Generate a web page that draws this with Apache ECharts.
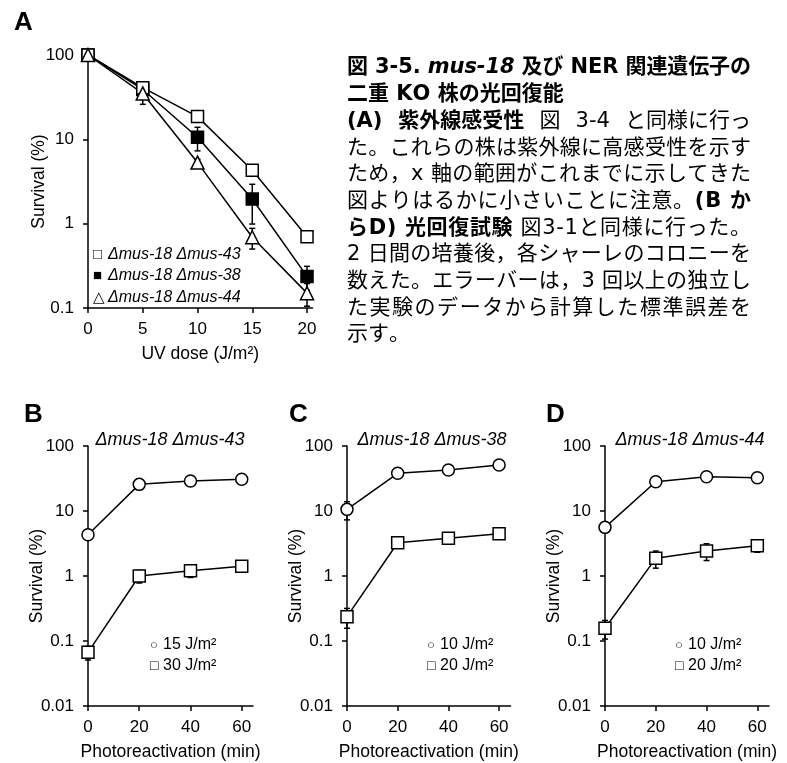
<!DOCTYPE html>
<html><head><meta charset="utf-8">
<script src="https://cdn.jsdelivr.net/npm/echarts@6/dist/echarts.min.js"></script>
<style>html,body{margin:0;padding:0;background:#fff}#c{width:787px;height:763px}</style>
</head><body><div id="c"></div>
<script>
// ---------- Data ----------
const doseA = [0, 5, 10, 15, 20];
const survA43 = [100, 41, 18.6, 4.3, 0.70];
const seA43 = [0, 2, 1, 0.3, 0.05];
const survA38 = [100, 39, 10.6, 1.96, 0.237];
const seA38 = [0, 4, 3.3, 0.97, 0.075];
const survA44 = [100, 35, 5.3, 0.69, 0.15];
const seA44 = [0, 9, 0.5, 0.19, 0.045];

const timePR = [0, 20, 40, 60];
const survB15 = [4.3, 25.7, 29, 30.7];
const seB15 = [0.3, 1.5, 1.5, 1.5];
const survB30 = [0.067, 1.0, 1.2, 1.41];
const seB30 = [0.016, 0.22, 0.25, 0.15];
const survC10 = [10.6, 38, 42.7, 51];
const seC10 = [3.3, 3, 3, 4];
const survC20 = [0.237, 3.25, 3.8, 4.47];
const seC20 = [0.08, 0.3, 0.3, 0.3];
const survD10 = [5.6, 28.2, 33.7, 32.5];
const seD10 = [0.8, 2, 2, 2];
const survD20 = [0.157, 1.87, 2.43, 2.92];
const seD20 = [0.05, 0.55, 0.7, 0.6];

const ticksA = [0, 5, 10, 15, 20];
const ticksPR = [0, 20, 40, 60];
const strainNames = ['Δmus-18 Δmus-43', 'Δmus-18 Δmus-38', 'Δmus-18 Δmus-44'];
const dosesBCD = [['15 J/m²', '30 J/m²'], ['10 J/m²', '20 J/m²'], ['10 J/m²', '20 J/m²']];

const captionLines = [
  [['図 3-5. ', 'b'], ['mus-18', 'bi'], [' 及び NER 関連遺伝子の', 'b']],
  [['二重 KO 株の光回復能', 'b']],
  [['(A) 紫外線感受性', 'b'], [' 図 3-4 と同様に行っ', '']],
  [['た。これらの株は紫外線に高感受性を示す', '']],
  [['ため，x 軸の範囲がこれまでに示してきた', '']],
  [['図よりはるかに小さいことに注意。', ''], ['(B か', 'b']],
  [['らD) 光回復試験', 'b'], [' 図3-1と同様に行った。', '']],
  [['2 日間の培養後，各シャーレのコロニーを', '']],
  [['数えた。エラーバーは，3 回以上の独立し', '']],
  [['た実験のデータから計算した標準誤差を', '']],
  [['示す。', '']]
];
// justification mode per line: 'sp' stretch spaces, 'all' stretch every gap, '' none
const captionJustify = ['all', '', 'sp', 'all', 'all', 'all', 'all', 'all', 'all', 'all', ''];

// ---------- Helpers ----------
const FF = "'Liberation Sans', Arial, 'DejaVu Sans', sans-serif";
const BLACK = '#000';

function pts(xs, ys) { return xs.map((x, i) => [x, ys[i]]); }

function lineSeries(gi, xs, ys, symbol, fill, size) {
  return {
    type: 'line', xAxisIndex: gi, yAxisIndex: gi, data: pts(xs, ys),
    symbol: symbol, symbolSize: size, showAllSymbol: true, z: 3,
    lineStyle: { color: BLACK, width: 1.5 },
    itemStyle: { color: fill, borderColor: BLACK, borderWidth: 1.5 },
    emphasis: { disabled: true }, silent: true, animation: false
  };
}

function errSeries(gi, xs, ys, se) {
  const d = [];
  xs.forEach((x, i) => { if (se[i] > 0) d.push([x, ys[i] - se[i], ys[i] + se[i]]); });
  return {
    type: 'custom', xAxisIndex: gi, yAxisIndex: gi, z: 1, silent: true, animation: false,
    data: d, encode: { x: 0, y: [1, 2] },
    renderItem: function (params, api) {
      const x = api.value(0);
      const lo = api.coord([x, api.value(1)]);
      const hi = api.coord([x, api.value(2)]);
      const w = 3;
      const st = { stroke: BLACK, lineWidth: 1.5 };
      return {
        type: 'group', children: [
          { type: 'line', shape: { x1: lo[0], y1: lo[1], x2: hi[0], y2: hi[1] }, style: st },
          { type: 'line', shape: { x1: lo[0] - w, y1: lo[1], x2: lo[0] + w, y2: lo[1] }, style: st },
          { type: 'line', shape: { x1: hi[0] - w, y1: hi[1], x2: hi[0] + w, y2: hi[1] }, style: st }
        ]
      };
    }
  };
}

function xAxisCfg(gi, max, ticks, name) {
  return {
    type: 'value', gridIndex: gi, min: 0, max: max,
    name: name, nameLocation: 'middle', nameGap: 37, nameMoveOverlap: false,
    nameTextStyle: { color: BLACK, fontSize: 17.5, fontFamily: FF },
    axisLine: { show: true, onZero: false, lineStyle: { color: BLACK, width: 1.5 } },
    axisTick: { show: true, inside: false, length: 5, customValues: ticks, lineStyle: { color: BLACK, width: 1.5 } },
    axisLabel: { show: true, customValues: ticks, color: BLACK, fontSize: 17, fontFamily: FF, margin: 13 },
    splitLine: { show: false }
  };
}

function yAxisCfg(gi, min, gap) {
  return {
    type: 'log', logBase: 10, gridIndex: gi, min: min, max: 100,
    name: 'Survival (%)', nameLocation: 'middle', nameGap: gap, nameMoveOverlap: false,
    nameTextStyle: { color: BLACK, fontSize: 17.5, fontFamily: FF },
    axisLine: { show: true, onZero: false, lineStyle: { color: BLACK, width: 1.5 } },
    axisTick: { show: true, inside: false, length: 5, lineStyle: { color: BLACK, width: 1.5 } },
    axisLabel: { color: BLACK, fontSize: 17, fontFamily: FF, margin: 14, hideOverlap: false,
      formatter: v => String(+(+v).toPrecision(3)) },
    minorTick: { show: false }, splitLine: { show: false }
  };
}

function txt(x, y, text, opts) {
  return {
    type: 'text', x: x, y: y, silent: true,
    style: Object.assign({ text: text, fill: BLACK, fontFamily: FF, fontSize: 17,
      textAlign: 'left', textVerticalAlign: 'middle' }, opts || {})
  };
}

// ---------- Caption (justified) ----------
const CAP_FS = 21;
const CAP_FF = "'DejaVu Sans', 'Noto Sans CJK JP', sans-serif";
const capLeft = 347, capRight = 751, capTop = 68, capStep = 26.7;
const mctx = document.createElement('canvas').getContext('2d');
function fontStr(f) {
  return (f.indexOf('i') >= 0 ? 'italic ' : '') + (f.indexOf('b') >= 0 ? 'bold ' : '') + CAP_FS + 'px ' + CAP_FF;
}
const captionEls = [];
captionLines.forEach((runs, li) => {
  const chars = [];
  runs.forEach(([t, f]) => {
    for (const ch of t) {
      mctx.font = fontStr(f);
      chars.push({ ch, f, w: mctx.measureText(ch).width });
    }
  });
  const total = chars.reduce((s, c) => s + c.w, 0);
  const nSp = chars.filter(c => c.ch === ' ').length;
  let extraSp = 0, extraGap = 0;
  const mode = captionJustify[li];
  if (mode) {
    const extra = capRight - capLeft - total;
    if (mode === 'sp' && nSp > 0) extraSp = extra / nSp; else extraGap = extra / (chars.length - 1);
  }
  let x = capLeft;
  const y = capTop + capStep * li;
  chars.forEach(c => {
    if (c.ch !== ' ') {
      captionEls.push({
        type: 'text', x: x, y: y, silent: true,
        style: { text: c.ch, fill: BLACK, fontFamily: CAP_FF, fontSize: CAP_FS,
          fontWeight: c.f.indexOf('b') >= 0 ? 'bold' : 'normal',
          fontStyle: c.f.indexOf('i') >= 0 ? 'italic' : 'normal',
          textAlign: 'left', textVerticalAlign: 'middle' }
      });
    }
    x += c.w + extraGap + (c.ch === ' ' ? extraSp : 0);
  });
});

// ---------- Other graphics ----------
const labelEls = [
  txt(14, 23, 'A', { fontSize: 26, fontWeight: 'bold' }),
  txt(24, 415, 'B', { fontSize: 26, fontWeight: 'bold' }),
  txt(289, 415, 'C', { fontSize: 26, fontWeight: 'bold' }),
  txt(546, 415, 'D', { fontSize: 26, fontWeight: 'bold' }),
  txt(170, 440, strainNames[0], { fontSize: 18, fontStyle: 'italic', textAlign: 'center' }),
  txt(432, 440, strainNames[1], { fontSize: 18, fontStyle: 'italic', textAlign: 'center' }),
  txt(690, 440, strainNames[2], { fontSize: 18, fontStyle: 'italic', textAlign: 'center' })
];
const legA = ['□', '■', '△'];
const legAy = [255, 276, 298];
legA.forEach((s, i) => {
  labelEls.push(txt(93, legAy[i], s, { fontSize: 15 }));
  labelEls.push(txt(108, legAy[i], strainNames[i], { fontSize: 16, fontStyle: 'italic' }));
});
const legX = [150, 427, 675];
legX.forEach((x, p) => {
  labelEls.push(txt(x, 645, '○', { fontSize: 13 }));
  labelEls.push(txt(x + 13, 645, dosesBCD[p][0], { fontSize: 16 }));
  labelEls.push(txt(x, 666, '□', { fontSize: 14 }));
  labelEls.push(txt(x + 13, 666, dosesBCD[p][1], { fontSize: 16 }));
});

// ---------- Chart ----------
const chart = echarts.init(document.getElementById('c'), null, { renderer: 'canvas' });
chart.setOption({
  animation: false,
  backgroundColor: '#fff',
  grid: [
    { left: 88, top: 55, width: 224.5, height: 253, containLabel: false, outerBoundsMode: 'none' },
    { left: 88, top: 446, width: 165, height: 260, containLabel: false, outerBoundsMode: 'none' },
    { left: 347, top: 446, width: 163.5, height: 260, containLabel: false, outerBoundsMode: 'none' },
    { left: 605, top: 446, width: 164, height: 260, containLabel: false, outerBoundsMode: 'none' }
  ],
  xAxis: [
    xAxisCfg(0, 20.5, ticksA, 'UV dose (J/m²)'),
    xAxisCfg(1, 64.4, ticksPR, 'Photoreactivation (min)'),
    xAxisCfg(2, 64.5, ticksPR, 'Photoreactivation (min)'),
    xAxisCfg(3, 64.6, ticksPR, 'Photoreactivation (min)')
  ],
  yAxis: [
    yAxisCfg(0, 0.1, 40),
    yAxisCfg(1, 0.01, 42),
    yAxisCfg(2, 0.01, 42),
    yAxisCfg(3, 0.01, 42)
  ],
  series: [
    errSeries(0, doseA, survA43, seA43),
    errSeries(0, doseA, survA38, seA38),
    errSeries(0, doseA, survA44, seA44),
    lineSeries(0, doseA, survA38, 'rect', BLACK, 12),
    lineSeries(0, doseA, survA43, 'rect', '#fff', 12),
    lineSeries(0, doseA, survA44, 'triangle', '#fff', 13),

    errSeries(1, timePR, survB15, seB15),
    errSeries(1, timePR, survB30, seB30),
    lineSeries(1, timePR, survB15, 'circle', '#fff', 12),
    lineSeries(1, timePR, survB30, 'rect', '#fff', 12),

    errSeries(2, timePR, survC10, seC10),
    errSeries(2, timePR, survC20, seC20),
    lineSeries(2, timePR, survC10, 'circle', '#fff', 12),
    lineSeries(2, timePR, survC20, 'rect', '#fff', 12),

    errSeries(3, timePR, survD10, seD10),
    errSeries(3, timePR, survD20, seD20),
    lineSeries(3, timePR, survD10, 'circle', '#fff', 12),
    lineSeries(3, timePR, survD20, 'rect', '#fff', 12)
  ],
  graphic: { elements: captionEls.concat(labelEls) }
});
</script>
</body></html>
